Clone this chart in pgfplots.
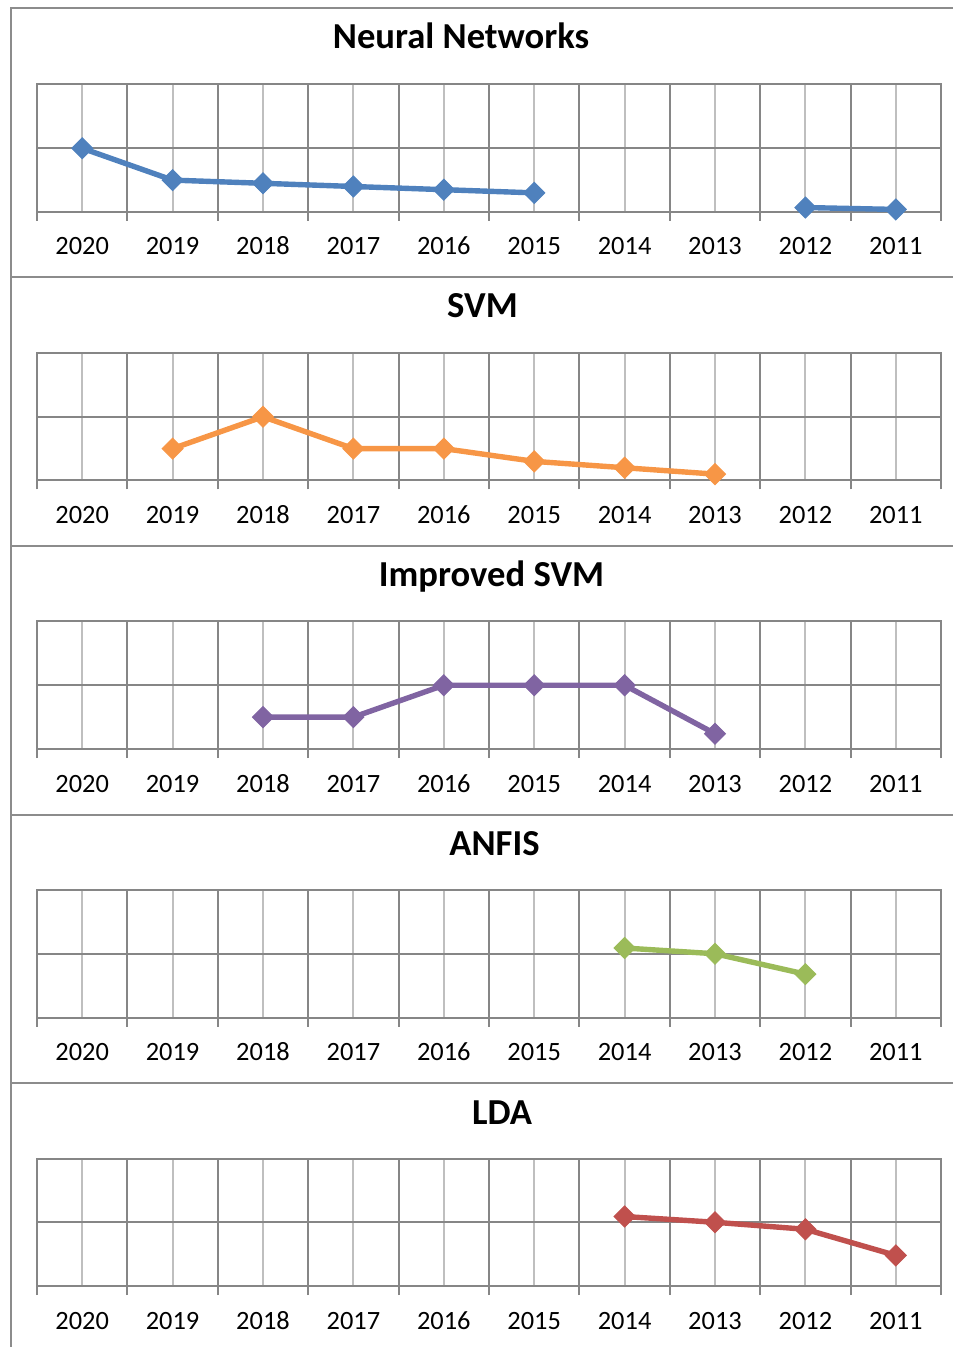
\documentclass[border=0pt]{standalone}
\usepackage{pgfplots}
\pgfplotsset{compat=1.18}
\usepackage{fontspec}
\setmainfont{Carlito}
\definecolor{framec}{HTML}{8C8C8C}
\definecolor{gridd}{HTML}{868686}
\definecolor{gridl}{HTML}{BFBFBF}
\definecolor{cblue}{HTML}{4F81BD}
\definecolor{corange}{HTML}{F79646}
\definecolor{cpurple}{HTML}{8064A2}
\definecolor{cgreen}{HTML}{9BBB59}
\definecolor{cred}{HTML}{C0504D}
\pgfplotsset{panel/.style={
  scale only axis, width=452pt, height=63.75pt, anchor=south west,
  xmin=0, xmax=10, ymin=0, ymax=2,
  xtick={0.5,1.5,2.5,3.5,4.5,5.5,6.5,7.5,8.5,9.5},
  xticklabels={2020,2019,2018,2017,2016,2015,2014,2013,2012,2011},
  minor xtick={0,1,2,3,4,5,6,7,8,9,10},
  ytick={0,1,2}, yticklabels={},
  xmajorgrids, xminorgrids, ymajorgrids,
  major x grid style={gridl, line width=1pt},
  minor x grid style={gridd, line width=1pt},
  major y grid style={gridd, line width=1pt},
  axis line style={gridd, line width=1pt},
  major tick length=0pt, minor tick length=4.5pt, tick align=outside,
  minor tick style={gridd, line width=1pt},
  xtick pos=left,
  ytick style={draw=none},
  xticklabel style={font=\fontsize{13.2}{15}\selectfont, anchor=base, yshift=-21.5pt},
  clip=false,
  unbounded coords=jump,
},
ser/.style={color=#1, line width=2.7pt, mark=square*, mark size=3.7pt,
  mark options={rotate=45, line width=0.5pt, solid, fill=#1}}
}
\begin{document}
\begin{tikzpicture}
\useasboundingbox (0,0) rectangle (476.5pt,-673.5pt);
\draw[framec, line width=1pt] (5.5pt,-673.5pt) -- (5.5pt,-4pt) -- (476.5pt,-4pt);
\foreach \yy in {138.5,273,407.5,541.5}{
  \draw[framec, line width=1pt] (5.5pt,-\yy pt) -- (476.5pt,-\yy pt);
}
\tikzset{ttl/.style={font=\fontsize{18.3}{20}\selectfont\bfseries, anchor=base}}
\node[ttl] at (230.5pt,-24.5pt) {Neural Networks};
\node[ttl] at (241.25pt,-158.9pt) {SVM};
\node[ttl] at (245.75pt,-293.25pt) {Improved SVM};
\node[ttl] at (247.25pt,-427.6pt) {ANFIS};
\node[ttl] at (251pt,-562pt) {LDA};

\begin{axis}[panel, at={(18.5pt,-106pt)}]
\addplot[ser=cblue] coordinates {(0.5,1.0) (1.5,0.5) (2.5,0.45) (3.5,0.40) (4.5,0.35) (5.5,0.30) (6.5,nan) (7.5,nan) (8.5,0.07) (9.5,0.04)};
\end{axis}
\begin{axis}[panel, at={(18.5pt,-240.25pt)}]
\addplot[ser=corange] coordinates {(1.5,0.5) (2.5,1.0) (3.5,0.5) (4.5,0.5) (5.5,0.3) (6.5,0.2) (7.5,0.1)};
\end{axis}
\begin{axis}[panel, at={(18.5pt,-374.5pt)}]
\addplot[ser=cpurple] coordinates {(2.5,0.5) (3.5,0.5) (4.5,1.0) (5.5,1.0) (6.5,1.0) (7.5,0.24)};
\end{axis}
\begin{axis}[panel, at={(18.5pt,-508.75pt)}]
\addplot[ser=cgreen] coordinates {(6.5,1.09) (7.5,1.0) (8.5,0.68)};
\end{axis}
\begin{axis}[panel, at={(18.5pt,-643pt)}]
\addplot[ser=cred] coordinates {(6.5,1.09) (7.5,1.0) (8.5,0.89) (9.5,0.48)};
\end{axis}
\end{tikzpicture}
\end{document}
